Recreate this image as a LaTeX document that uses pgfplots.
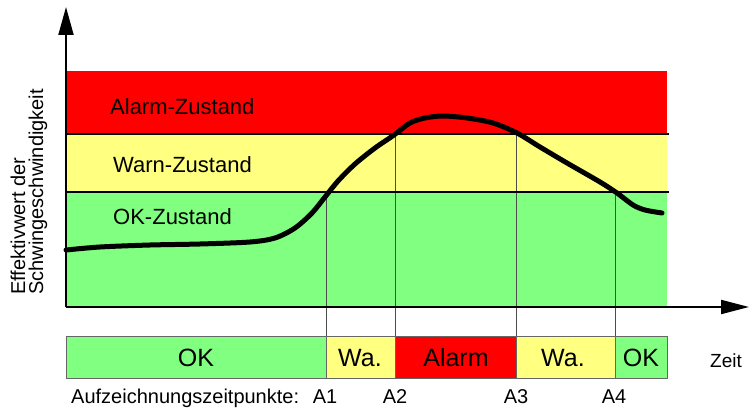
\documentclass[border=0pt]{standalone}
\usepackage{pgfplots}
\pgfplotsset{compat=1.18}
\usepackage{fontspec}
\setmainfont{Liberation Sans}
\usetikzlibrary{arrows.meta}
\definecolor{cred}{RGB}{255,0,0}
\definecolor{cyel}{RGB}{255,255,128}
\definecolor{cgrn}{RGB}{128,255,128}
\tikzset{big/.style={font=\fontsize{22}{24}\selectfont, inner sep=0pt},
         bar/.style={font=\fontsize{25}{28}\selectfont, inner sep=0pt, anchor=base},
         mid/.style={font=\fontsize{20}{22}\selectfont, inner sep=0pt, anchor=base}}
\begin{document}
\begin{tikzpicture}
\begin{axis}[
  x=1pt, y=1pt,
  xmin=0, xmax=752, ymin=0, ymax=407,
  axis lines=none, clip=false,
]
% invisible frame for bounding box
\addplot[draw=none, forget plot] coordinates {(0,0) (752,407)};
% zones
\addplot[fill=cred, draw=none] coordinates {(66,273) (667,273) (667,336) (66,336)} -- cycle;
\addplot[fill=cyel, draw=none] coordinates {(66,215) (667,215) (667,273) (66,273)} -- cycle;
\addplot[fill=cgrn, draw=none] coordinates {(66,100) (667,100) (667,215) (66,215)} -- cycle;
% vertical markers
\addplot[black!70, line width=1pt] coordinates {(326,212) (326,70)};
\addplot[black!70, line width=1pt] coordinates {(395,273) (395,70)};
\addplot[black!70, line width=1pt] coordinates {(516,273) (516,70)};
\addplot[black!70, line width=1pt] coordinates {(615,215) (615,70)};
% boundary lines
\addplot[black, line width=2pt] coordinates {(66,273) (669,273)};
\addplot[black, line width=2pt] coordinates {(66,215) (669,215)};
% axes
\addplot[black, line width=2pt, -{Triangle[length=28pt,width=15pt]}] coordinates {(66,100) (66,400)};
\addplot[black, line width=2pt, -{Triangle[length=28pt,width=14pt]}] coordinates {(66,100) (749,100)};
% curve
\addplot[black, line width=5pt, smooth, tension=0.5, line cap=round] coordinates {
(66,157) (100,160) (150,162) (200,163) (250,165) (275,169) (295,179) (312,194)
(325,210) (338,226) (355,243) (375,259) (394,272) (410,284) (425,289) (443,291)
(467,289) (493,284) (517,274) (540,260) (567,244) (600,225) (617,214) (633,202)
(645,197) (662,194)};
% bottom bar
\addplot[fill=cgrn, draw=black!60, line width=1pt] coordinates {(66,29) (326,29) (326,71) (66,71)} -- cycle;
\addplot[fill=cyel, draw=black!60, line width=1pt] coordinates {(326,29) (395,29) (395,71) (326,71)} -- cycle;
\addplot[fill=cred, draw=black!60, line width=1pt] coordinates {(395,29) (516,29) (516,71) (395,71)} -- cycle;
\addplot[fill=cyel, draw=black!60, line width=1pt] coordinates {(516,29) (615,29) (615,71) (516,71)} -- cycle;
\addplot[fill=cgrn, draw=black!60, line width=1pt] coordinates {(615,29) (667,29) (667,71) (615,71)} -- cycle;
% zone labels
\node[big, anchor=base west] at (axis cs:110,292) {Alarm-Zustand};
\node[big, anchor=base west] at (axis cs:113,234) {Warn-Zustand};
\node[big, anchor=base west] at (axis cs:113,182) {OK-Zustand};
% bar labels
\node[bar] at (axis cs:196,41) {OK};
\node[bar] at (axis cs:360,41) {Wa.};
\node[bar] at (axis cs:456,41) {Alarm};
\node[bar] at (axis cs:563,41) {Wa.};
\node[bar] at (axis cs:641,41) {OK};
\node[anchor=base west, inner sep=0pt, font=\fontsize{19}{20}\selectfont] at (axis cs:710,40) {Zeit};
% time points
\node[mid, anchor=base west] at (axis cs:71,4) {Aufzeichnungszeitpunkte:};
\node[mid] at (axis cs:325,4) {A1};
\node[mid] at (axis cs:395,4) {A2};
\node[mid] at (axis cs:516,4) {A3};
\node[mid] at (axis cs:614,4) {A4};
% y label
\node[rotate=90, anchor=west, align=left, inner sep=0pt, font=\fontsize{20}{18}\selectfont] at (axis cs:29,112) {Effektivwert der\\Schwingeschwindigkeit};
\end{axis}
\end{tikzpicture}
\end{document}
